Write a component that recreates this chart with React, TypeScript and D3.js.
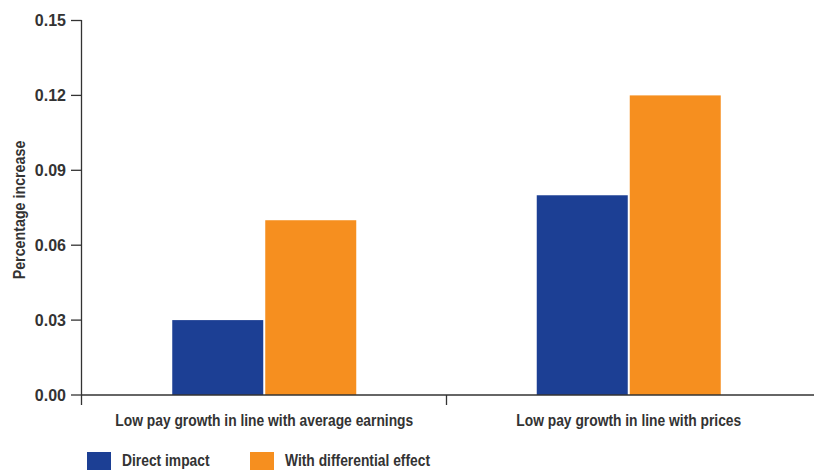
import React from "react";
import * as d3 from "d3";

const categories = [
  "Low pay growth in line with average earnings",
  "Low pay growth in line with prices",
];
const seriesNames = ["Direct impact", "With differential effect"];
const directImpact = [0.03, 0.08];
const withDifferential = [0.07, 0.12];
const yTicks = [0, 0.03, 0.06, 0.09, 0.12, 0.15];
const colors = ["#1c3f94", "#f68f1f"];

const W = 814;
const H = 470;
const font = "'Liberation Sans', Arial, sans-serif";
const textColor = "#333333";
const squeeze = 0.865;

export default function App() {
  const x = d3.scaleBand<string>().domain(categories).range([82, 811]).paddingInner(0).paddingOuter(0);
  const y = d3.scaleLinear().domain([0, 0.15]).range([395, 20.5]);
  const barW = 91;
  const gap = 2;
  const series = [directImpact, withDifferential];

  return (
    <svg width={W} height={H} style={{ position: "absolute", left: 0, top: 0 }}>
      {categories.map((c, i) => {
        const center = (x(c) as number) + x.bandwidth() / 2;
        const total = barW * 2 + gap;
        return series.map((s, j) => {
          const bx = center - total / 2 + j * (barW + gap);
          return (
            <rect
              key={c + j}
              x={bx}
              y={y(s[i])}
              width={barW}
              height={y(0) - y(s[i])}
              fill={colors[j]}
            />
          );
        });
      })}
      <line x1={81.5} x2={81.5} y1={20} y2={405} stroke={textColor} strokeWidth={1.3} />
      {yTicks.map((t) => (
        <g key={t}>
          <line x1={71} x2={81.5} y1={y(t)} y2={y(t)} stroke={textColor} strokeWidth={1.3} />
          <text
            x={66}
            y={y(t)}
            dy="0.35em"
            textAnchor="end"
            fontFamily={font}
            fontWeight="bold"
            fontSize={16}
            fill={textColor}
          >
            {d3.format(".2f")(t)}
          </text>
        </g>
      ))}
      <line x1={81.5} x2={814} y1={395} y2={395} stroke={textColor} strokeWidth={1.3} />
      {categories.map((c, i) =>
        i > 0 ? (
          <line
            key={"t" + c}
            x1={x(c) as number}
            x2={x(c) as number}
            y1={395}
            y2={405}
            stroke={textColor}
            strokeWidth={1.3}
          />
        ) : null
      )}
      {categories.map((c) => (
        <g
          key={"l" + c}
          transform={`translate(${(x(c) as number) + x.bandwidth() / 2},425.5) scale(${squeeze},1)`}
        >
          <text
            x={0}
            y={0}
            textAnchor="middle"
            fontFamily={font}
            fontWeight="bold"
            fontSize={16}
            fill={textColor}
          >
            {c}
          </text>
        </g>
      ))}
      <g transform={`translate(25,210) rotate(-90) scale(${squeeze},1)`}>
        <text
          textAnchor="middle"
          fontFamily={font}
          fontWeight="bold"
          fontSize={16.5}
          fill={textColor}
        >
          Percentage increase
        </text>
      </g>
      {seriesNames.map((n, j) => {
        const lx = [87, 250][j];
        return (
          <g key={n}>
            <rect x={lx} y={452} width={24} height={18} fill={colors[j]} />
            <g transform={`translate(${lx + 35},465.5) scale(${squeeze},1)`}>
              <text
                x={0}
                y={0}
                fontFamily={font}
                fontWeight="bold"
                fontSize={16}
                fill={textColor}
              >
                {n}
              </text>
            </g>
          </g>
        );
      })}
    </svg>
  );
}
